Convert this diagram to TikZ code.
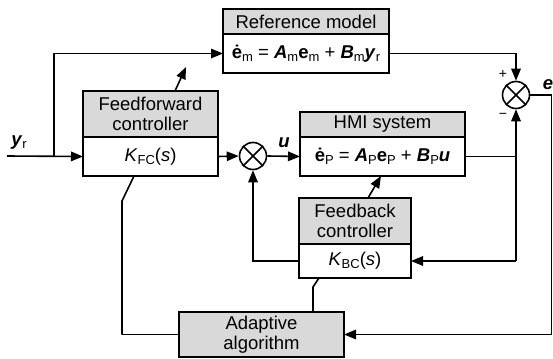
\documentclass[tikz,border=0pt]{standalone}
\usepackage{fontspec}
\setmainfont{Liberation Sans}
\usetikzlibrary{arrows.meta,calc}
\newcommand\lowsub[1]{\raisebox{-0.3ex}{\fontsize{13}{13}\selectfont #1}}
\newcommand\bv[1]{\textbf{\textit{#1}}}
\begin{document}
\begin{tikzpicture}[x=1pt,y=-1pt,
  every node/.style={font=\fontsize{18.5}{20.5}\selectfont},
  head/.style={draw, line width=1.6pt, fill=gray!30, anchor=north west, inner sep=0pt, outer sep=0pt, align=center},
  body/.style={draw, line width=1.6pt, fill=white, anchor=north west, inner sep=0pt, outer sep=0pt, align=center},
  sumnode/.style={circle, draw, line width=1.6pt, minimum size=27pt, inner sep=0pt},
  wire/.style={line width=1.6pt},
  arr/.style={wire, -{Triangle[length=12pt,width=9.5pt]}},
  sign/.style={font=\fontsize{14}{14}\selectfont}
]
\useasboundingbox (0,0) rectangle (553,358);

% Reference model
\node[head, minimum width=166pt, minimum height=25pt] (refh) at (223,9) {Reference model};
\node[body, minimum width=166pt, minimum height=39pt] (refb) at (223,34)
  {\textbf{ė}\lowsub{m} = \bv{A}\lowsub{m}\textbf{e}\lowsub{m} + \bv{B}\lowsub{m}\bv{y}\lowsub{r}};

% Feedforward controller
\node[head, minimum width=135pt, minimum height=46pt] (ffh) at (83,91) {Feedforward\\controller};
\node[body, minimum width=135pt, minimum height=39pt] (ffb) at (83,137) {\textit{K}\lowsub{FC}(\textit{s})};

% HMI system
\node[head, minimum width=165pt, minimum height=25pt] (hmih) at (300,112) {HMI system};
\node[body, minimum width=165pt, minimum height=39pt] (hmib) at (300,137)
  {\textbf{ė}\lowsub{P} = \bv{A}\lowsub{P}\textbf{e}\lowsub{P} + \bv{B}\lowsub{P}\bv{u}};

% Feedback controller
\node[head, minimum width=112pt, minimum height=46pt] (fbh) at (299,198) {Feedback\\controller};
\node[body, minimum width=112pt, minimum height=34pt] (fbb) at (299,244) {\textit{K}\lowsub{BC}(\textit{s})};

% Adaptive algorithm
\node[head, minimum width=165pt, minimum height=45pt] (adp) at (179,312) {Adaptive\\algorithm};

% Summing junctions
\node[sumnode] (s1) at (253,156) {};
\draw[wire] (s1.north west) -- (s1.south east) (s1.north east) -- (s1.south west);
\node[sumnode] (s2) at (516,95) {};
\draw[wire] (s2.north west) -- (s2.south east) (s2.north east) -- (s2.south west);

% Signal labels
\node (yr) at (19,143) {\bv{y}\lowsub{r}};
\node (ulab) at (284,143) {\bv{u}};
\node (elab) at (548,85) {\bv{e}};
\node[sign] (plus) at (503,74) {+};
\node[sign] (minus) at (503,116) {−};

% Auxiliary points
\coordinate (yin) at (7,156);
\coordinate (br) at (54,156);
\coordinate (ffarr) at (186,67);
\coordinate (jhmi) at (s2 |- hmib.east);
\coordinate (jfb) at (s2 |- fbb.east);
\coordinate (eR) at (551.5,95);
\coordinate (ffk1) at (122,201);
\coordinate (ffk2) at (122,336);
\coordinate (fbk) at (313,287);

% Reference input
\draw[arr] (yin) -- (ffb.west);
\draw[arr] (br) |- (refb.west);
\draw[arr] ([xshift=24.5pt]ffh.north) -- (ffarr);

% Forward path
\draw[arr] (ffb.east) -- (s1.west);
\draw[arr] (s1.east) -- (hmib.west);
\draw[wire] (hmib.east) -- (jhmi);
\draw[arr] (refb.east) -| (s2.north);
\draw[arr] (jfb) -- (s2.south);
\draw[arr] (jfb) -- (fbb.east);
\draw[arr] (fbb.west) -| (s1.south);
\draw[arr] ([xshift=13pt]fbh.north) -- ([xshift=-1.5pt]hmib.south);

% Error to adaptation
\draw[arr] (s2.east) -- (eR) |- (adp.east);
\draw[wire] (adp.west -| ffk2) -- (adp.west);
\draw[wire] (adp.west -| ffk2) -- (ffk1) -- ([xshift=-16.5pt]ffb.south);
\draw[wire] ([xshift=51.5pt]adp.north) -- (fbk) -- ([xshift=-36pt]fbb.south);
\end{tikzpicture}
\end{document}
